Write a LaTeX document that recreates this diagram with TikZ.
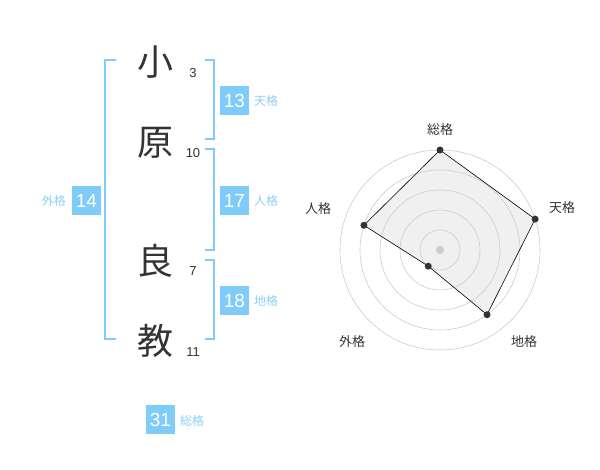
\documentclass[tikz,border=0pt]{standalone}
\usepackage{fontspec}
\setmainfont{Liberation Sans}
\newfontfamily\jp{Noto Sans CJK JP}
\definecolor{kblue}{HTML}{80CCF8}
\definecolor{klab}{HTML}{8CCFF2}
\definecolor{ink}{HTML}{333333}
\definecolor{ring}{HTML}{CCCCCC}
\definecolor{area}{HTML}{F0F0F0}
\tikzset{
  kanji/.style={font=\jp\fontsize{36}{36}\selectfont, text=ink, inner sep=0pt},
  strokes/.style={font=\fontsize{13}{13}\selectfont, text=ink, inner sep=0pt},
  numbox/.style={fill=kblue, text=white, minimum width=29pt, minimum height=29pt, inner sep=0pt, font=\fontsize{19}{19}\selectfont},
  kaku/.style={font=\jp\fontsize{12}{12}\selectfont, text=klab, inner sep=0pt},
  brk/.style={draw=kblue, line width=2pt},
  ringline/.style={draw=ring, line width=0.6pt},
  rlab/.style={font=\jp\fontsize{13}{13}\selectfont, text=ink, inner sep=0pt},
  pt/.style={circle, fill=ink, inner sep=0pt, minimum size=7pt},
}
\begin{document}
\begin{tikzpicture}[x=1pt,y=-1pt]
\useasboundingbox (0,0) rectangle (600,470);
% characters
\node[kanji] (c1) at (155,62) {小};
\node[kanji] (c2) at (155,143) {原};
\node[kanji] (c3) at (155,261) {良};
\node[kanji] (c4) at (155,341) {教};
\node[strokes] (s1) at (193,73) {3};
\node[strokes] (s2) at (193,153) {10};
\node[strokes] (s3) at (193,271) {7};
\node[strokes] (s4) at (193,352) {11};
% brackets
\coordinate (la) at (116,60); \coordinate (lb) at (105,60);
\coordinate (lc) at (105,339); \coordinate (ld) at (116,339);
\draw[brk] (la) -- (lb) -- (lc) -- (ld);
\coordinate (r1a) at (205,60); \coordinate (r1b) at (214,60);
\coordinate (r1c) at (214,139); \coordinate (r1d) at (205,139);
\draw[brk] (r1a) -- (r1b) -- (r1c) -- (r1d);
\coordinate (r2a) at (205,149); \coordinate (r2b) at (214,149);
\coordinate (r2c) at (214,250); \coordinate (r2d) at (205,250);
\draw[brk] (r2a) -- (r2b) -- (r2c) -- (r2d);
\coordinate (r3a) at (205,260); \coordinate (r3b) at (214,260);
\coordinate (r3c) at (214,339); \coordinate (r3d) at (205,339);
\draw[brk] (r3a) -- (r3b) -- (r3c) -- (r3d);
% boxes
\node[numbox] (b13) at (234.5,100.5) {13};
\node[kaku, anchor=west] (k13) at (254,101) {天格};
\node[numbox] (b17) at (234.5,200.5) {17};
\node[kaku, anchor=west] (k17) at (254,201) {人格};
\node[numbox] (b14) at (86.5,200.5) {14};
\node[kaku, anchor=east] (k14) at (66,201) {外格};
\node[numbox] (b18) at (234.5,300.5) {18};
\node[kaku, anchor=west] (k18) at (254,301) {地格};
\node[numbox] (b31) at (160.5,419.5) {31};
\node[kaku, anchor=west] (k31) at (180,421) {総格};
% radar
\coordinate (O) at (440,250);
\path (O) ++(-90:100) coordinate (pS);
\path (O) ++(-18:100) coordinate (pT);
\path (O) ++(54:80) coordinate (pC);
\path (O) ++(126:20) coordinate (pG);
\path (O) ++(198:80) coordinate (pJ);
\fill[area] (pS) -- (pT) -- (pC) -- (pG) -- (pJ) -- cycle;
\foreach \r in {20,40,60,80,100} \draw[ringline] (O) circle[radius=\r];
\node[circle, fill=ring, inner sep=0pt, minimum size=8pt] (ctr) at (O) {};
\draw[draw=black, line width=0.6pt] (pS) -- (pT) -- (pC) -- (pG) -- (pJ) -- cycle;
\foreach \p in {pS,pT,pC,pG,pJ} \node[pt] at (\p) {};
\node[rlab] (lS) at (440,130) {総格};
\node[rlab] (lT) at (562,208) {天格};
\node[rlab] (lJ) at (318,209) {人格};
\node[rlab] (lG) at (352,342) {外格};
\node[rlab] (lC) at (524,342) {地格};
\end{tikzpicture}
\end{document}
